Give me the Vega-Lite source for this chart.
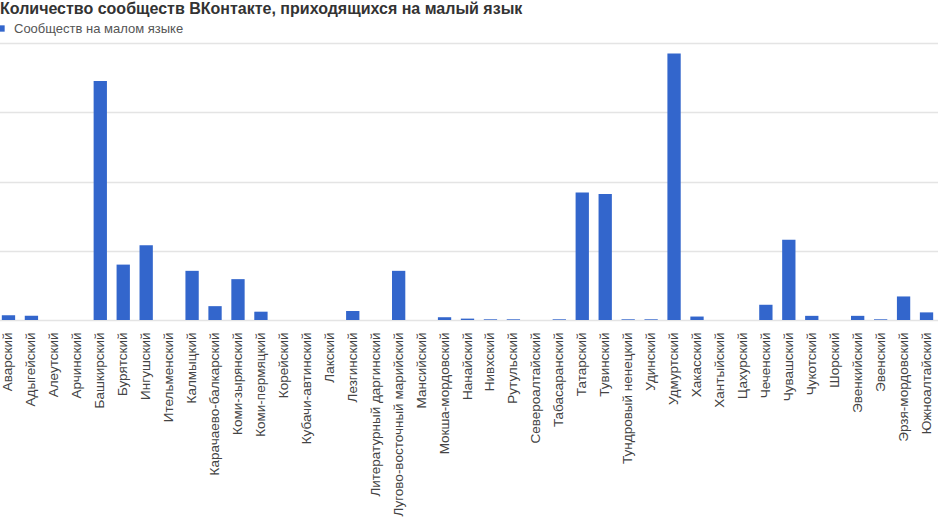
{
  "$schema": "https://vega.github.io/schema/vega-lite/v6.json",
  "width": 941,
  "height": 277,
  "autosize": {"type": "none"},
  "padding": {"left": -3, "top": 43, "right": 0, "bottom": 200},
  "background": "white",
  "title": {
    "text": "Количество сообществ ВКонтакте, приходящихся на малый язык",
    "anchor": "start",
    "frame": "group",
    "offset": 5,
    "dx": 3,
    "font": "Liberation Sans",
    "fontSize": 16,
    "fontWeight": "bold",
    "color": "#333333"
  },
  "data": {
    "values": [
      {"language": "Аварский", "communities": 70},
      {"language": "Адыгейский", "communities": 60},
      {"language": "Алеутский", "communities": 0},
      {"language": "Арчинский", "communities": 0},
      {"language": "Башкирский", "communities": 3450},
      {"language": "Бурятский", "communities": 800},
      {"language": "Ингушский", "communities": 1080},
      {"language": "Ительменский", "communities": 0},
      {"language": "Калмыцкий", "communities": 710},
      {"language": "Карачаево-балкарский", "communities": 200},
      {"language": "Коми-зырянский", "communities": 590},
      {"language": "Коми-пермяцкий", "communities": 120},
      {"language": "Корейский", "communities": 0},
      {"language": "Кубачи-автинский", "communities": 0},
      {"language": "Лакский", "communities": 0},
      {"language": "Лезгинский", "communities": 130},
      {"language": "Литературный даргинский", "communities": 0},
      {"language": "Лугово-восточный марийский", "communities": 710},
      {"language": "Мансийский", "communities": 0},
      {"language": "Мокша-мордовский", "communities": 40},
      {"language": "Нанайский", "communities": 20},
      {"language": "Нивхский", "communities": 10},
      {"language": "Рутульский", "communities": 10},
      {"language": "Североалтайский", "communities": 0},
      {"language": "Табасаранский", "communities": 10},
      {"language": "Татарский", "communities": 1840},
      {"language": "Тувинский", "communities": 1820},
      {"language": "Тундровый ненецкий", "communities": 10},
      {"language": "Удинский", "communities": 10},
      {"language": "Удмуртский", "communities": 3850},
      {"language": "Хакасский", "communities": 50},
      {"language": "Хантыйский", "communities": 0},
      {"language": "Цахурский", "communities": 0},
      {"language": "Чеченский", "communities": 220},
      {"language": "Чувашский", "communities": 1160},
      {"language": "Чукотский", "communities": 60},
      {"language": "Шорский", "communities": 0},
      {"language": "Эвенкийский", "communities": 60},
      {"language": "Эвенский", "communities": 10},
      {"language": "Эрзя-мордовский", "communities": 340},
      {"language": "Южноалтайский", "communities": 110}
    ]
  },
  "mark": {"type": "bar"},
  "encoding": {
    "x": {
      "field": "language",
      "type": "nominal",
      "sort": null,
      "title": null,
      "scale": {"paddingInner": 0.42, "paddingOuter": 0.21},
      "axis": {
        "labelAngle": -90,
        "labelAlign": "right",
        "labelBaseline": "middle",
        "labelPadding": 12,
        "labelFont": "Liberation Sans",
        "labelFontSize": 13.5,
        "labelColor": "#444444",
        "labelOverlap": false,
        "labelLimit": 250,
        "ticks": false,
        "domain": false
      }
    },
    "y": {
      "field": "communities",
      "type": "quantitative",
      "title": null,
      "scale": {"domain": [0, 4000], "nice": false},
      "axis": {
        "values": [0, 1000, 2000, 3000, 4000],
        "labels": false,
        "ticks": false,
        "domain": false,
        "gridColor": "#e4e4e4",
        "gridWidth": 1.5
      }
    },
    "color": {
      "datum": "Сообществ на малом языке",
      "type": "nominal",
      "scale": {"range": ["#3366cc"]},
      "legend": {
        "title": null,
        "orient": "none",
        "legendX": -2,
        "legendY": -21,
        "symbolType": "square",
        "symbolSize": 40,
        "labelFont": "Liberation Sans",
        "labelFontSize": 13,
        "labelLimit": 400,
        "labelColor": "#555555",
        "labelOffset": 6
      }
    }
  },
  "config": {"view": {"stroke": null}}
}
